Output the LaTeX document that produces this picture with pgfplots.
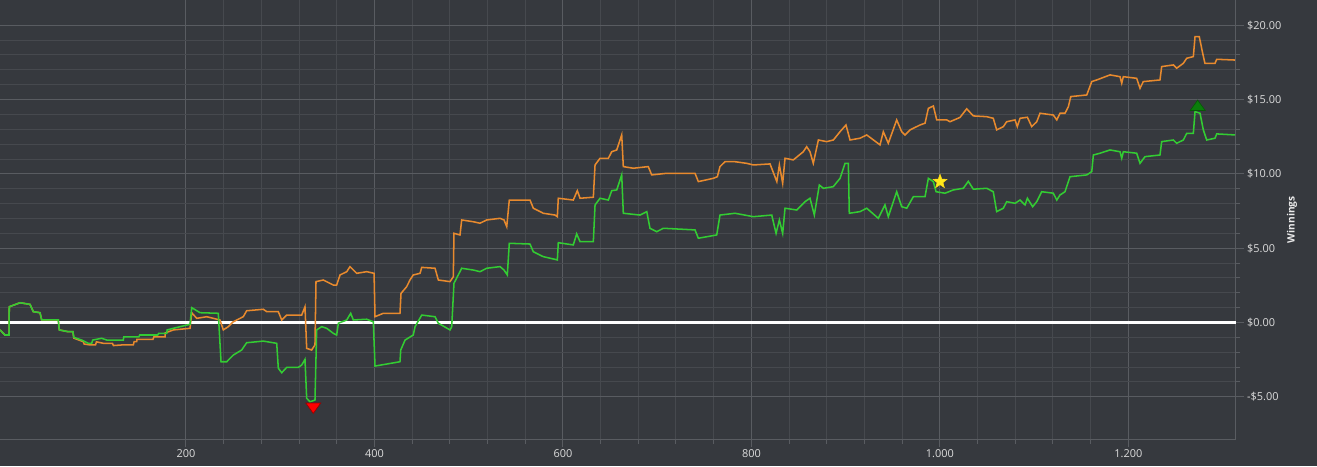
\documentclass[border=0pt]{standalone}
\usepackage{pgfplots}
\pgfplotsset{compat=1.18}
\usepackage{fontspec}
\setmainfont{Open Sans}
\usetikzlibrary{plotmarks}
\definecolor{bgcol}{HTML}{36393E}
\definecolor{gmaj}{HTML}{595C61}
\definecolor{gmin}{HTML}{46494E}
\definecolor{lbl}{HTML}{DCDCDC}
\definecolor{orangeL}{HTML}{E88A2E}
\definecolor{greenL}{HTML}{33CC33}
\definecolor{starY}{HTML}{FFE81A}
\definecolor{triG}{HTML}{0B7D0B}
\pgfdeclareplotmark{fstar}{%
  \pgfpathmoveto{\pgfpointpolar{90}{\pgfplotmarksize}}%
  \pgfpathlineto{\pgfpointpolar{126}{0.42\pgfplotmarksize}}%
  \pgfpathlineto{\pgfpointpolar{162}{\pgfplotmarksize}}%
  \pgfpathlineto{\pgfpointpolar{198}{0.42\pgfplotmarksize}}%
  \pgfpathlineto{\pgfpointpolar{234}{\pgfplotmarksize}}%
  \pgfpathlineto{\pgfpointpolar{270}{0.42\pgfplotmarksize}}%
  \pgfpathlineto{\pgfpointpolar{306}{\pgfplotmarksize}}%
  \pgfpathlineto{\pgfpointpolar{342}{0.42\pgfplotmarksize}}%
  \pgfpathlineto{\pgfpointpolar{18}{\pgfplotmarksize}}%
  \pgfpathlineto{\pgfpointpolar{54}{0.42\pgfplotmarksize}}%
  \pgfpathclose
  \pgfusepathqfillstroke}
\begin{document}
\begin{tikzpicture}
\fill[bgcol] (0,-20.25pt) rectangle (987.75pt,329.5pt);
\begin{axis}[
  at={(0,0)}, anchor=south west,
  scale only axis, width=926.8pt, height=329.5pt,
  xmin=2.65, xmax=1314, ymin=-7.86, ymax=21.70,
  axis x line*=bottom, axis y line*=right,
  axis line style={gmaj, line width=0.75pt, -},
  xtick={200,400,600,800,1000,1200},
  xticklabels={200,400,600,800,1.000,1.200},
  ytick={-5,0,5,10,15,20},
  yticklabels={-\$5.00,\$0.00,\$5.00,\$10.00,\$15.00,\$20.00},
  minor x tick num=4, minor y tick num=4,
  grid=both,
  major grid style={gmaj, line width=0.75pt},
  minor grid style={gmin, line width=0.75pt},
  tick align=outside,
  major tick length=6pt, minor tick length=3.5pt,
  tick style={gmaj, line width=0.75pt},
  ticklabel style={font=\fontsize{8.2pt}{9pt}\selectfont, text=lbl},
  yticklabel style={anchor=west, xshift=-1pt},
  xticklabel style={yshift=1.5pt},
  ylabel={\textbf{Winnings}},
  every axis y label/.style={at={(rel axis cs:1,0.5)}, xshift=42.2pt, rotate=90, anchor=center,
     font=\fontsize{7.6pt}{9pt}\selectfont, text=white!92!black},
  clip=true,
]
\addplot[white, line width=1.7pt] coordinates {(2.65,0) (1314,0)};
\addplot[orangeL, line width=1.15pt] table {
2.7 -0.50
8 -0.84
12.2 -0.84
12.5 1.06
23.9 1.33
34.5 1.22
38 0.73
45.1 0.66
46.9 0.17
64.5 0.17
65.6 -0.50
75.1 -0.62
80 -0.62
81 -1.05
91 -1.29
92 -1.45
98.2 -1.51
104 -1.51
105 -1.30
112.3 -1.40
122 -1.40
123 -1.55
131.8 -1.51
144.1 -1.51
145 -1.29
147.7 -1.29
148 -1.13
158.3 -1.13
165 -1.13
166 -0.96
177.8 -0.96
178 -0.70
186.6 -0.50
204.3 -0.39
206.1 0.66
211.4 0.28
222 0.39
236.1 0.17
239.6 -0.50
244.9 -0.28
250.2 0.05
260.8 0.39
264.4 0.79
282.1 0.89
285.7 0.73
298 0.73
301.6 0.17
306.9 0.50
322.8 0.50
326.3 1.06
328.1 -1.74
333.4 -1.85
336.9 -1.51
338 2.75
345.7 2.86
356.4 2.52
359.9 2.52
363.5 3.20
370.6 3.42
374.1 3.76
381.2 3.31
391.8 3.42
399.6 3.31
400.6 0.39
409.4 0.62
427.1 0.62
428.2 1.96
434.2 2.41
437.7 2.86
441.2 3.20
448.4 3.31
450.2 3.71
464.3 3.65
467.8 2.86
480.2 2.75
483.7 3.08
484.4 6.00
490.8 5.89
492.6 6.90
504.9 6.78
512 6.68
519.1 6.90
533.3 7.01
537.5 6.90
540.4 6.45
543.1 8.24
565.1 8.24
568.6 7.69
579.2 7.35
591.6 7.23
594.1 7.12
595.1 8.36
611 8.24
615.3 8.87
618.2 8.36
632.3 8.43
634.1 10.60
639.4 11.05
648.2 11.05
651.8 11.49
657.1 11.61
662.4 12.62
664.1 10.49
674.7 10.38
690.6 10.49
694.2 9.93
710.1 10.04
740.2 10.04
743.7 9.48
759.6 9.70
763.9 9.81
766.7 10.49
772 10.82
782.6 10.82
795 10.71
802.1 10.60
819.8 10.67
827 9.48
829.7 10.60
833.2 9.37
835.7 11.05
844.5 10.94
855.1 11.49
858.7 11.83
862.2 11.49
865.7 10.71
871.1 12.28
879.9 12.17
887 12.28
894.1 12.84
900.4 13.29
904.7 12.28
915.3 12.40
922.4 12.62
936.5 11.95
940 12.84
945.3 12.06
954.2 13.63
959.5 12.84
963 12.62
968.4 12.96
979 13.29
984.3 13.41
987.8 14.41
993.1 14.57
996.7 13.63
1007.3 13.63
1010.8 13.51
1021.4 13.80
1028.5 14.38
1035.5 13.90
1049.7 13.85
1056.7 13.74
1060.3 12.96
1067.4 13.18
1070.9 13.51
1079.8 13.63
1082.2 13.18
1085.1 13.74
1092.9 13.81
1097.5 13.18
1102.8 13.51
1106.3 14.08
1120.4 13.96
1124.1 13.63
1127.5 14.08
1132.8 14.08
1136.4 14.52
1138.9 15.20
1155.9 15.31
1161.2 16.21
1166.5 16.32
1180.6 16.66
1191.2 16.54
1193 16.10
1194.7 16.54
1208.9 16.43
1212.4 15.76
1215.9 16.21
1233.6 16.32
1235.4 17.22
1247.8 17.33
1251.3 17.11
1258.4 17.44
1262 17.78
1269 17.89
1270.8 19.23
1275.3 19.23
1278.9 18.12
1281.3 17.44
1292 17.44
1293.8 17.71
1313.2 17.66
};
\addplot[greenL, line width=1.15pt] table {
2.7 -0.50
8 -0.84
12.2 -0.84
12.5 1.06
23.9 1.33
34.5 1.22
38 0.73
45.1 0.66
46.9 0.17
64.5 0.17
65.6 -0.50
75.1 -0.62
80 -0.62
81 -1.00
89.3 -1.18
96.4 -1.40
100 -1.40
101 -1.18
110.6 -1.06
115.9 -1.18
133.5 -1.18
134 -0.96
142.4 -0.96
150 -0.96
151 -0.84
158.3 -0.84
170 -0.84
171 -0.73
179.6 -0.73
180 -0.50
186.6 -0.39
204.3 -0.12
206.1 1.00
214.9 0.66
234.3 0.62
237.2 -2.64
243.2 -2.64
250.2 -2.19
259.1 -1.85
264.4 -1.36
282.1 -1.25
296.3 -1.40
298 -3.08
301.6 -3.38
306.9 -3.02
319.2 -3.02
322.8 -2.86
326.3 -2.48
328.1 -5.10
331.6 -5.33
336.9 -5.22
338.7 -0.50
344 -0.28
349.3 -0.39
356.4 -0.73
359.9 -0.84
361.7 -0.05
370.6 0.17
374.8 0.62
377.6 0.17
391.8 0.22
398.8 0.05
400.6 -2.93
427.1 -2.64
427.9 -1.85
432.5 -1.18
441.2 -0.84
443.1 -0.28
450.2 0.50
464.3 0.39
467.8 -0.05
480.2 -0.50
482 -0.28
484.4 2.64
492.6 3.65
504.9 3.53
512 3.42
519.1 3.65
533.3 3.76
537.5 3.53
541 3.20
543.1 5.33
565.1 5.28
568.6 4.76
579.2 4.43
591.6 4.25
594.1 4.21
595.1 5.37
611 5.22
614.6 5.96
618.2 5.44
632.3 5.44
634.1 7.91
639.4 8.36
648.2 8.24
651.8 8.87
657.1 8.92
662.4 9.93
664.1 7.35
681.8 7.23
689 7.46
692.4 6.34
699.5 6.11
706.6 6.34
740.2 6.23
743.7 5.67
763.2 5.89
766.7 7.23
782.6 7.35
802.1 7.12
821.6 7.23
826.2 6.00
829.7 6.90
833.2 6.00
835.7 7.69
848.1 7.57
856.9 8.13
862.2 8.36
866.8 7.23
872.1 9.25
876.4 9.03
886.9 9.14
894.1 9.70
899.4 10.71
902.9 10.71
903.9 7.35
915.3 7.46
922.4 7.69
934.7 7.01
941.8 7.91
945.3 7.12
954.2 8.80
959.5 7.79
964.9 7.69
971.9 8.47
984.3 8.47
987.8 9.70
993.1 9.48
996 8.80
1005.5 8.70
1014.3 8.92
1024.9 9.03
1030.2 9.50
1035.5 8.97
1049.7 9.03
1056.7 8.80
1060.3 7.46
1067.4 7.69
1070.9 8.13
1079.8 8.02
1085.1 8.24
1090.4 7.91
1092.9 8.36
1098.5 7.79
1102.8 8.13
1108.1 8.80
1120.4 8.70
1124.1 8.24
1127.5 8.58
1132.8 8.80
1138.1 9.81
1155.9 9.93
1161.2 10.15
1162.9 11.27
1170 11.39
1180.6 11.61
1191.2 11.49
1193 11.05
1194.7 11.49
1208.9 11.39
1212.4 10.71
1217.7 11.16
1233.6 11.27
1235.4 12.17
1247.8 12.28
1251.3 12.06
1258.4 12.28
1262 12.73
1269 12.73
1270.8 14.19
1276.1 14.08
1279.6 12.96
1283.2 12.28
1292 12.40
1293.8 12.69
1313.2 12.62
};
\addplot[only marks, mark=triangle*, mark size=6.5pt,
  mark options={fill=red, draw=red!60!black, rotate=180, yscale=0.8, line width=0.5pt}]
  coordinates {(335.1,-5.65)};
\addplot[only marks, mark=triangle*, mark size=6.5pt,
  mark options={fill=triG, draw=triG!70!black, yscale=0.8, line width=0.5pt}]
  coordinates {(1273.6,14.50)};
\addplot[only marks, mark=fstar, mark size=5.5pt,
  mark options={fill=starY, draw=starY!85!orange, line width=0.4pt}]
  coordinates {(1000.2,9.48)};
\end{axis}
\pgfresetboundingbox
\useasboundingbox (0,-20.25pt) rectangle (987.75pt,329.5pt);
\end{tikzpicture}
\end{document}
